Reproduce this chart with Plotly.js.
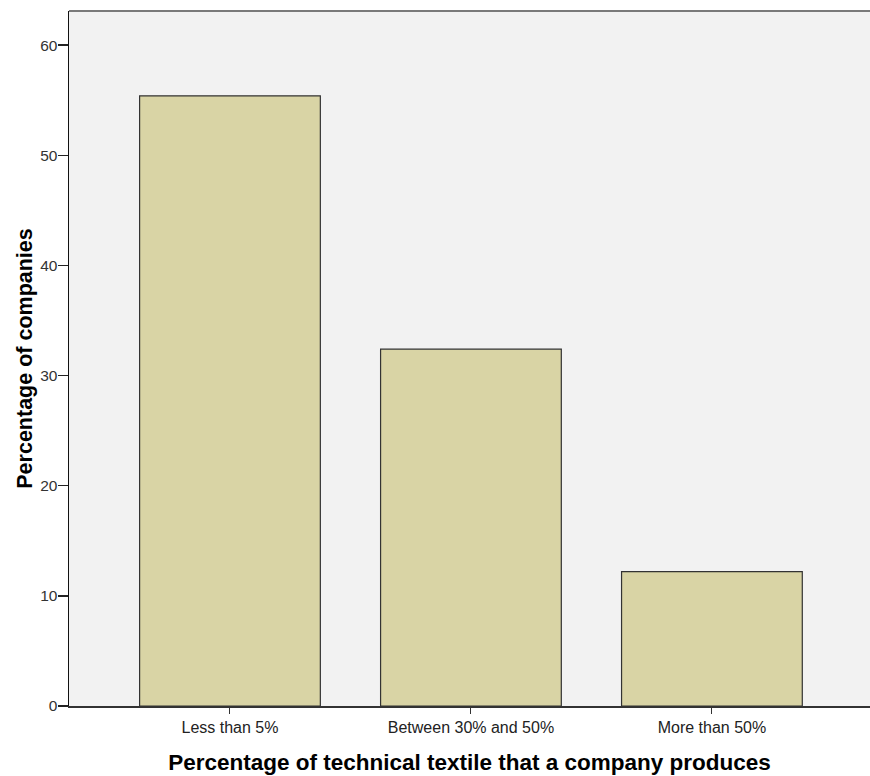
<!DOCTYPE html>
<html>
<head>
<meta charset="utf-8">
<script src="https://cdn.plot.ly/plotly-3.0.1.min.js"></script>
<style>html,body{margin:0;padding:0;background:#fff;}#chart{width:870px;height:776px;}</style>
</head>
<body>
<div id="chart"></div>
<script>
const categories = ["Less than 5%", "Between 30% and 50%", "More than 50%"];
const percentages = [55.4, 32.4, 12.2];
const yTicks = [0, 10, 20, 30, 40, 50, 60];

const trace = {
  type: "bar",
  x: [0, 1, 2],
  y: percentages,
  width: 0.75,
  marker: {color: "#d9d4a5", line: {color: "#333333", width: 1.2}},
  hoverinfo: "skip"
};

const layout = {
  width: 870, height: 776,
  margin: {l: 69, r: 0, t: 11, b: 70, pad: 0},
  paper_bgcolor: "#ffffff",
  plot_bgcolor: "#f2f2f2",
  showlegend: false,
  font: {family: "Liberation Sans, Arial, sans-serif", color: "#222"},
  xaxis: {
    range: [-0.668, 2.656],
    tickmode: "array", tickvals: [0, 1, 2], ticktext: categories,
    ticks: "outside", ticklen: 6, tickwidth: 1, tickcolor: "#333",
    showline: true, linecolor: "#333", linewidth: 1.5,
    showgrid: false, zeroline: false,
    tickfont: {size: 16, color: "#222"},
    title: {text: "Percentage of technical textile that a company produces", font: {size: 22.5, color: "#000", weight: "bold"}, standoff: 19},
    automargin: false
  },
  yaxis: {
    range: [0, 63.1],
    tickmode: "array", tickvals: yTicks, ticktext: yTicks.map(String),
    ticks: "outside", ticklen: 10, tickwidth: 1.5, tickcolor: "#222",
    showline: true, linecolor: "#111", linewidth: 1.5,
    showgrid: false, zeroline: false,
    ticklabelstandoff: -3,
    tickfont: {size: 15.5, color: "#333"},
    title: {text: "Percentage of companies", font: {size: 21.5, color: "#000", weight: "bold"}, standoff: 1},
    automargin: false
  },
  shapes: [
    {type: "line", xref: "paper", yref: "paper", x0: 0, x1: 1, y0: 1, y1: 1, line: {color: "#7a7a7a", width: 2}}
  ]
};

Plotly.newPlot("chart", [trace], layout, {staticPlot: true, displayModeBar: false});
</script>
</body>
</html>
